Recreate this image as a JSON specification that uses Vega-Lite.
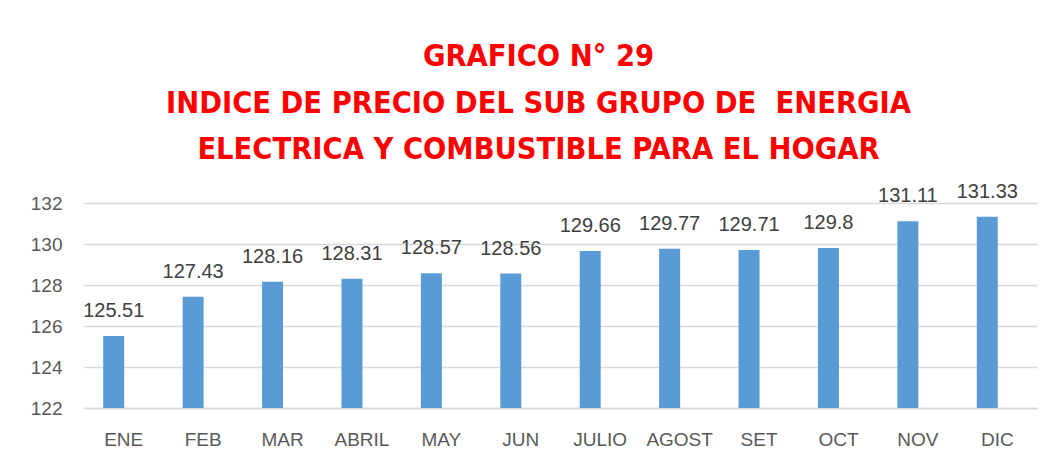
{
  "$schema": "https://vega.github.io/schema/vega-lite/v6.json",
  "width": 953,
  "height": 205,
  "autosize": "none",
  "padding": {"left": 84, "top": 203, "right": 15, "bottom": 53},
  "background": "white",
  "title": {
    "text": ["GRAFICO N° 29", "INDICE DE PRECIO DEL SUB GRUPO DE \u00a0ENERGIA", "ELECTRICA Y COMBUSTIBLE PARA EL HOGAR"],
    "color": "#FF0000",
    "font": "'DejaVu Sans Condensed', 'Liberation Sans', sans-serif",
    "fontSize": 30.5,
    "fontWeight": "bold",
    "lineHeight": 46.5,
    "anchor": "middle",
    "dx": -22,
    "offset": 16
  },
  "data": {
    "values": [
      {"mes": "ENE", "valor": 125.51, "etiqueta": "125.51"},
      {"mes": "FEB", "valor": 127.43, "etiqueta": "127.43"},
      {"mes": "MAR", "valor": 128.16, "etiqueta": "128.16"},
      {"mes": "ABRIL", "valor": 128.31, "etiqueta": "128.31"},
      {"mes": "MAY", "valor": 128.57, "etiqueta": "128.57"},
      {"mes": "JUN", "valor": 128.56, "etiqueta": "128.56"},
      {"mes": "JULIO", "valor": 129.66, "etiqueta": "129.66"},
      {"mes": "AGOST", "valor": 129.77, "etiqueta": "129.77"},
      {"mes": "SET", "valor": 129.71, "etiqueta": "129.71"},
      {"mes": "OCT", "valor": 129.8, "etiqueta": "129.8"},
      {"mes": "NOV", "valor": 131.11, "etiqueta": "131.11"},
      {"mes": "DIC", "valor": 131.33, "etiqueta": "131.33"}
    ]
  },
  "encoding": {
    "x": {
      "field": "mes",
      "type": "nominal",
      "sort": null,
      "scale": {"paddingInner": 0, "paddingOuter": 0},
      "axis": {
        "title": null,
        "labelAngle": 0,
        "labelFont": "Liberation Sans",
        "labelFontSize": 19,
        "labelColor": "#595959",
        "labelPadding": 22,
        "ticks": false,
        "domain": true,
        "domainColor": "#D9D9D9",
        "domainWidth": 1.5,
        "grid": false
      }
    },
    "y": {
      "field": "valor",
      "type": "quantitative",
      "scale": {"domain": [122, 132], "zero": false, "nice": false},
      "axis": {
        "title": null,
        "values": [122, 124, 126, 128, 130, 132],
        "labelFont": "Liberation Sans",
        "labelFontSize": 19,
        "labelColor": "#595959",
        "labelPadding": 22,
        "ticks": false,
        "domain": false,
        "grid": true,
        "gridColor": "#D9D9D9",
        "gridWidth": 1.5
      }
    }
  },
  "layer": [
    {
      "mark": {"type": "bar", "color": "#5B9BD5", "width": 21, "xOffset": -10},
      "encoding": {"y2": {"datum": 122}}
    },
    {
      "mark": {"type": "text", "font": "Liberation Sans", "fontSize": 20, "color": "#404040", "dx": -10, "dy": -19, "baseline": "alphabetic"},
      "encoding": {"text": {"field": "etiqueta", "type": "nominal"}}
    }
  ],
  "config": {"view": {"stroke": null}}
}
